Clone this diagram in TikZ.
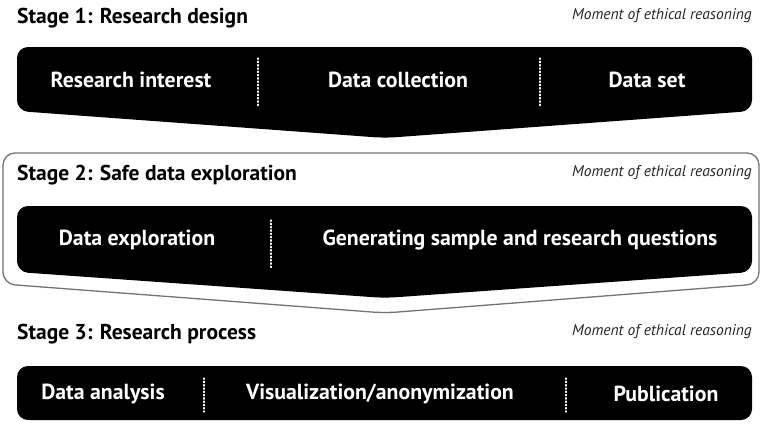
\documentclass[tikz,border=0pt]{standalone}
\usepackage{fontspec}
\setmainfont{PT Sans}

\tikzset{
	stagetitle/.style={anchor=west, inner sep=0pt, font=\fontsize{21.5}{24}\selectfont\bfseries},
	moment/.style={anchor=east, inner sep=0pt, font=\fontsize{15.5}{17}\selectfont\itshape, text=black!85},
	steplabel/.style={text=white, inner sep=0pt, font=\fontsize{21.8}{24}\selectfont\bfseries},
	blackbox/.style={fill=black, rounded corners=11pt},
	divider/.style={white, line width=1.3pt, dotted, line cap=round},
}

\begin{document}
\begin{tikzpicture}[x=1pt, y=-1pt]
	\useasboundingbox (0,0) rectangle (763,432);

	% stage 1
	\node[stagetitle] (title1) at (17,18) {Stage 1: Research design};
	\node[moment] (moment1) at (752,16) {Moment of ethical reasoning};
	\fill[blackbox] (17,47) -- (752,47) -- (752,111) -- (385,138) -- (17,111) -- cycle;
	\node[steplabel] (interest) at (131,80) {Research interest};
	\node[steplabel] (collection) at (398,80) {Data collection};
	\node[steplabel] (dataset) at (647,80) {Data set};
	\draw[divider] (258,58) -- (258,107);
	\draw[divider] (540,58) -- (540,107);

	% stage 2
	\draw[draw=black!55, line width=1.3pt, fill=white, rounded corners=12pt]
		(3,153) -- (759,153) -- (759,284) -- (385,313) -- (3,284) -- cycle;
	\node[stagetitle] (title2) at (17,175) {Stage 2: Safe data exploration};
	\node[moment] (moment2) at (752,173) {Moment of ethical reasoning};
	\fill[blackbox] (17,206) -- (752,206) -- (752,272) -- (385,298) -- (17,272) -- cycle;
	\node[steplabel] (exploration) at (137,240) {Data exploration};
	\node[steplabel] (questions) at (520,240) {Generating sample and research questions};
	\draw[divider] (271,220) -- (271,268);

	% stage 3
	\node[stagetitle] (title3) at (17,334) {Stage 3: Research process};
	\node[moment] (moment3) at (752,332) {Moment of ethical reasoning};
	\fill[blackbox] (17,366) rectangle (752,420);
	\node[steplabel] (analysis) at (103,394) {Data analysis};
	\node[steplabel] (visual) at (380,394) {Visualization/anonymization};
	\node[steplabel] (publication) at (666,394) {Publication};
	\draw[divider] (204,378) -- (204,412);
	\draw[divider] (566,378) -- (566,412);
\end{tikzpicture}
\end{document}
